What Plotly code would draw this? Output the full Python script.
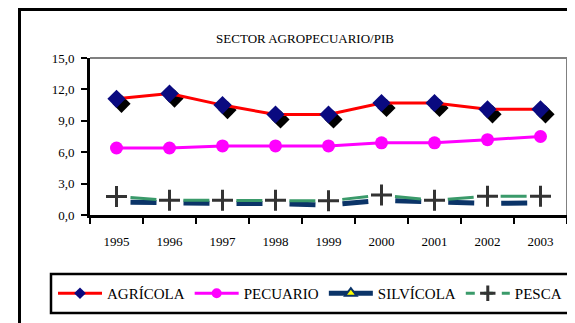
import plotly.graph_objects as go

years = ["1995", "1996", "1997", "1998", "1999", "2000", "2001", "2002", "2003"]
agricola = [11.1, 11.6, 10.5, 9.6, 9.6, 10.7, 10.7, 10.1, 10.1]
pecuario = [6.4, 6.4, 6.6, 6.6, 6.6, 6.9, 6.9, 7.2, 7.5]
silvicola = [1.25, 1.15, 1.1, 1.1, 0.95, 1.4, 1.25, 1.1, 1.15]
pesca = [1.77, 1.4, 1.4, 1.4, 1.35, 1.9, 1.4, 1.8, 1.8]
y_ticks = [0, 3, 6, 9, 12, 15]

FONT = "Liberation Serif"
OFF = 8  # page body margin
W, H = 575 - OFF, 323 - OFF
L, R = 90 - OFF, 8
T = 58 - OFF
B = H - (215 - OFF)
PW, PH = W - L - R, H - T - B

def px_x(p):  # screen px -> paper fraction
    return (p - OFF - L) / PW

def px_y(p):
    return (H - B - (p - OFF)) / PH

# shadow offset (pixels -> axis units)
ncat = len(years)
dx = 5 * ncat / PW
dy = 5 * 15 / PH

gap_dash = "0px,14px,26px,13px"

fig = go.Figure()

# legend-only entries (legend order)
fig.add_trace(go.Scatter(
    x=[None], y=[None], name="AGRÍCOLA", mode="lines+markers",
    line=dict(color="#FF0000", width=3),
    marker=dict(symbol="diamond", size=9, color="#0A0A80")))
fig.add_trace(go.Scatter(
    x=[None], y=[None], name="PECUARIO", mode="lines+markers",
    line=dict(color="#FF00FF", width=3),
    marker=dict(symbol="circle", size=10, color="#FF00FF")))
fig.add_trace(go.Scatter(
    x=[None], y=[None], name="SILVÍCOLA", mode="lines+markers",
    line=dict(color="#0B3468", width=5),
    marker=dict(symbol="triangle-up", size=10, color="#FFFF00",
                line=dict(color="#0B3468", width=2))))
fig.add_trace(go.Scatter(
    x=[None], y=[None], name="PESCA", mode="lines+markers",
    line=dict(color="#3A9A6A", width=3, dash="dash"),
    marker=dict(symbol="cross-thin", size=11, color="#333333",
                line=dict(color="#333333", width=3))))

# chart series
fig.add_trace(go.Scatter(
    x=years, y=pecuario, mode="lines+markers", showlegend=False,
    line=dict(color="#FF00FF", width=3),
    marker=dict(symbol="circle", size=13, color="#FF00FF"), cliponaxis=False))
fig.add_trace(go.Scatter(
    x=years, y=silvicola, mode="lines", showlegend=False,
    line=dict(color="#0B3468", width=5, dash=gap_dash), cliponaxis=False))
fig.add_trace(go.Scatter(
    x=years, y=pesca, mode="lines+markers", showlegend=False,
    line=dict(color="#3A9A6A", width=3, dash=gap_dash),
    marker=dict(symbol="cross-thin", size=15, color="#333333",
                line=dict(color="#333333", width=3)), cliponaxis=False))
fig.add_trace(go.Scatter(
    x=years, y=agricola, mode="markers", showlegend=False,
    marker=dict(symbol="diamond", size=14, color="#000000"),
    xaxis="x2", yaxis="y2", cliponaxis=False, hoverinfo="skip"))
fig.add_trace(go.Scatter(
    x=years, y=agricola, mode="lines+markers", showlegend=False,
    line=dict(color="#FF0000", width=3),
    marker=dict(symbol="diamond", size=14, color="#0A0A80"),
    xaxis="x3", yaxis="y3", cliponaxis=False))

tickfont = dict(family=FONT, size=13, color="black")
fig.update_layout(
    width=W, height=H,
    margin=dict(l=L, r=R, t=T, b=B, autoexpand=False),
    paper_bgcolor="white", plot_bgcolor="rgba(0,0,0,0)",
    separators=",.",
    title=dict(text="SECTOR AGROPECUARIO/PIB", x=(305 - OFF) / W, xanchor="center",
               y=1 - (38 - OFF) / H, yanchor="middle",
               font=dict(family=FONT, size=13, color="black")),
    xaxis=dict(type="category", categoryorder="array", categoryarray=years,
               range=[-0.5, ncat - 0.5], showline=True, linecolor="black", linewidth=3,
               ticks="outside", tickson="boundaries", ticklen=6, tickwidth=2, tickcolor="black",
               showgrid=False, zeroline=False, tickfont=tickfont, ticklabelstandoff=12),
    yaxis=dict(range=[0, 15], tickvals=y_ticks, tickformat=".1f",
               showline=True, linecolor="black", linewidth=3,
               ticks="outside", ticklen=6, tickwidth=2, tickcolor="black",
               showgrid=False, zeroline=False, tickfont=tickfont, ticklabelstandoff=4),
    xaxis2=dict(type="category", categoryorder="array", categoryarray=years,
                range=[-0.5 - dx, ncat - 0.5 - dx], visible=False, anchor="y2", domain=[0, 1]),
    yaxis2=dict(range=[0 + dy, 15 + dy], visible=False, anchor="x2", domain=[0, 1]),
    xaxis3=dict(type="category", categoryorder="array", categoryarray=years,
                range=[-0.5, ncat - 0.5], visible=False, anchor="y3", domain=[0, 1]),
    yaxis3=dict(range=[0, 15], visible=False, anchor="x3", domain=[0, 1]),
    showlegend=True,
    legend=dict(orientation="h", x=px_x(53), xanchor="left", y=px_y(277), yanchor="top",
                font=dict(family=FONT, size=15, color="black"),
                bgcolor="rgba(0,0,0,0)", itemsizing="trace", itemwidth=44,
                traceorder="normal"),
    shapes=[
        dict(type="rect", xref="paper", yref="paper", x0=px_x(19.5), x1=1.3,
             y0=-1.0, y1=px_y(OFF + 1.5), line=dict(color="black", width=3), layer="below"),
        dict(type="rect", xref="paper", yref="paper", x0=px_x(51), x1=1.3,
             y0=px_y(313), y1=px_y(274), line=dict(color="black", width=2.5), layer="below"),
        dict(type="line", xref="paper", yref="paper", x0=0, x1=1, y0=1, y1=1,
             line=dict(color="#808080", width=2)),
        dict(type="line", xref="paper", yref="paper", x0=1, x1=1, y0=0, y1=1,
             line=dict(color="#808080", width=2)),
    ],
)

fig.write_html("out.html", config={"displayModeBar": False})
